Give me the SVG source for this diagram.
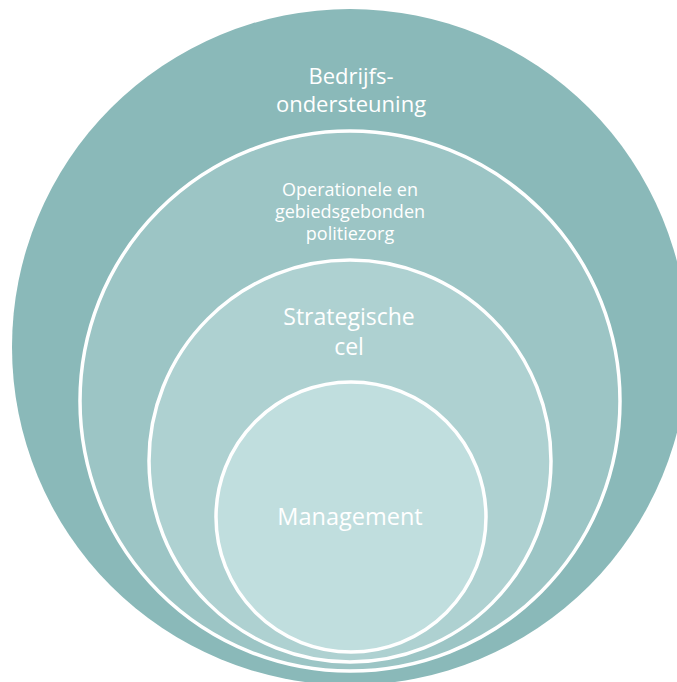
<svg xmlns="http://www.w3.org/2000/svg" width="677" height="682" viewBox="0 0 677 682">
<style>
.ring{stroke:#ffffff;stroke-width:3.5}
.lbl{font-family:"Open Sans","Liberation Sans",sans-serif;fill:#ffffff;text-anchor:middle}
</style>
<rect width="677" height="682" fill="#ffffff"/>
<g id="node-bedrijfsondersteuning">
<circle cx="350" cy="347" r="338" fill="#8ab9b9"/>
<text class="lbl" font-size="22" x="351" y="84">Bedrijfs-</text>
<text class="lbl" font-size="22" x="351" y="112">ondersteuning</text>
</g>
<g id="node-operationele">
<circle class="ring" cx="350" cy="401" r="270" fill="#9cc5c5"/>
<text class="lbl" font-size="18" x="350" y="196">Operationele en</text>
<text class="lbl" font-size="18" x="350" y="218">gebiedsgebonden</text>
<text class="lbl" font-size="18" x="350" y="240">politiezorg</text>
</g>
<g id="node-strategische-cel">
<circle class="ring" cx="350" cy="461" r="201" fill="#aed1d1"/>
<text class="lbl" font-size="23" x="349" y="325">Strategische</text>
<text class="lbl" font-size="23" x="349" y="355">cel</text>
</g>
<g id="node-management">
<circle class="ring" cx="351" cy="517" r="135" fill="#c0dede"/>
<text class="lbl" font-size="23.5" x="350" y="525">Management</text>
</g>
<g id="connectors"/>
</svg>
